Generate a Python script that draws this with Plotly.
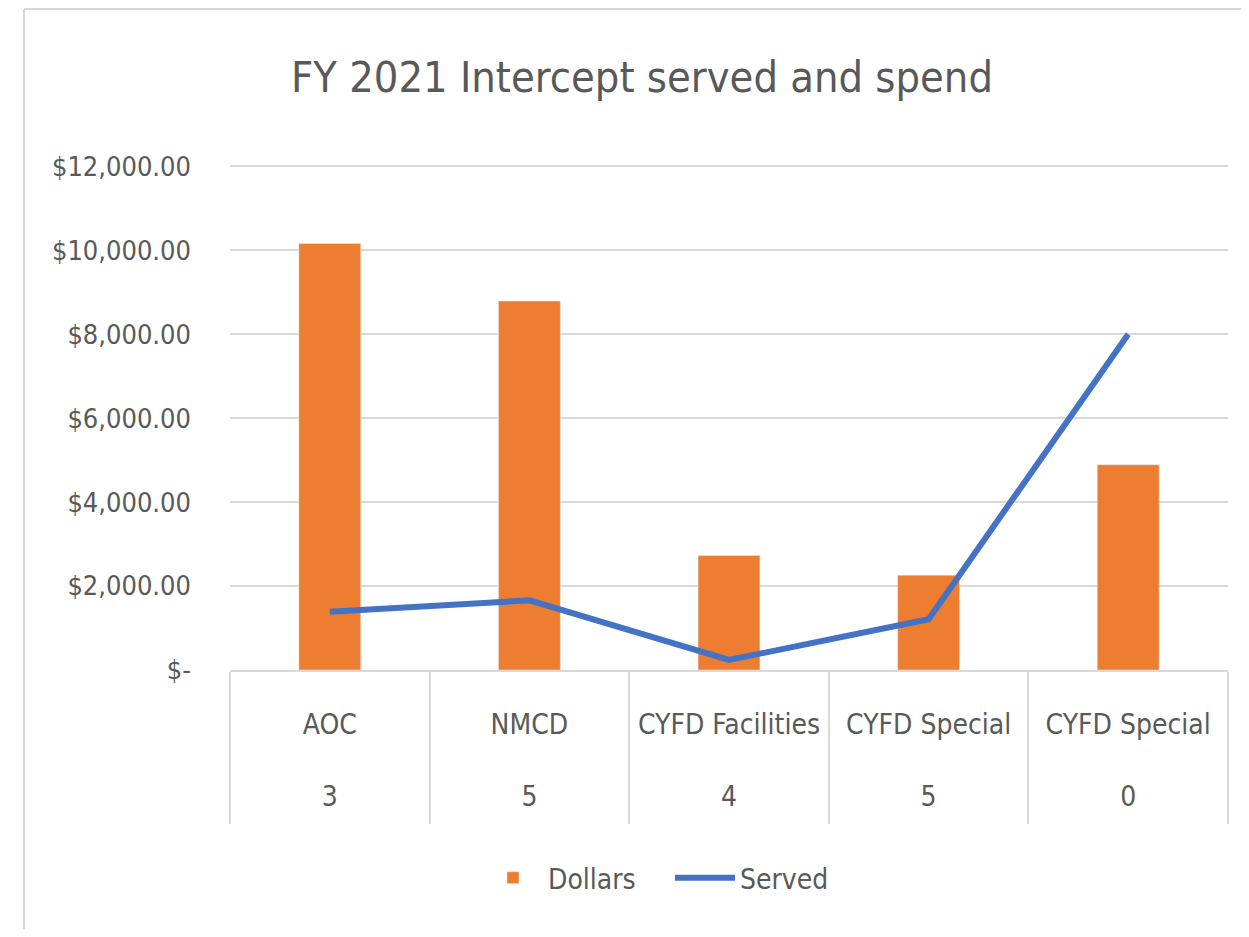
import plotly.graph_objects as go

# data
agencies = ["AOC", "NMCD", "CYFD Facilities", "CYFD Special", "CYFD Special"]
served_counts = [3, 5, 4, 5, 0]
dollars = [10160, 8790, 2730, 2260, 4890]
served_line = [1385, 1660, 240, 1210, 8000]
y_ticks = [0, 2000, 4000, 6000, 8000, 10000, 12000]
y_tick_text = ["$-", "$2,000.00", "$4,000.00", "$6,000.00", "$8,000.00", "$10,000.00", "$12,000.00"]

ORANGE = "#ED7D31"
BLUE = "#4472C4"
GRID = "#D9D9D9"
TEXT = "#595959"
FONT = "Liberation Sans Narrow, DejaVu Sans Condensed, Arial Narrow, sans-serif"

# two-row category labels: name on top, served count below
cats = [f"{a}<br><br>{n}" for a, n in zip(agencies, served_counts)]

fig = go.Figure()
fig.add_trace(go.Bar(x=cats, y=dollars, name="Dollars", marker_color=ORANGE, width=0.31))
fig.add_trace(go.Scatter(x=cats, y=served_line, name="Served", mode="lines",
                         line=dict(color=BLUE, width=6)))

# page body adds an 8px margin, so the figure is sized to fit inside it
W, H = 1233, 921
L, R, T, B = 222, 13, 157, 259
PW, PH = W - L - R, H - T - B

fig.update_layout(
    width=W, height=H,
    margin=dict(l=L, r=R, t=T, b=B, autoexpand=False),
    paper_bgcolor="white", plot_bgcolor="white",
    font=dict(family=FONT, color=TEXT, size=28),
    title=dict(text="FY 2021 Intercept served and spend", x=634 / W, xanchor="center",
               y=1 - 69 / H, yanchor="middle", font=dict(size=43, color=TEXT, family=FONT)),
    showlegend=True,
    legend=dict(orientation="h", x=(470 - L) / PW, xanchor="left",
                y=-208 / PH, yanchor="middle", font=dict(size=28, color=TEXT),
                entrywidth=117, entrywidthmode="pixels", itemwidth=60),
    bargap=0.69,
)
fig.update_yaxes(range=[0, 12030], tickvals=y_ticks, ticktext=y_tick_text,
                 showgrid=True, gridcolor=GRID, gridwidth=2, zeroline=False,
                 showline=False, ticks="", ticklabelstandoff=38, fixedrange=True,
                 tickfont=dict(size=27))
fig.update_xaxes(type="category", showline=True, linecolor=GRID, linewidth=2,
                 tickson="boundaries", ticks="outside", ticklen=152, tickwidth=2,
                 tickcolor=GRID, ticklabelstandoff=28, showgrid=False,
                 tickangle=0, tickfont=dict(size=28))

# outer chart frame like the Excel chart area
fx = -(L - 16) / PW
fy = 1 + (T - 1) / PH
fig.add_shape(type="line", xref="paper", yref="paper", x0=fx, x1=1.05, y0=fy, y1=fy,
              line=dict(color=GRID, width=2))
fig.add_shape(type="line", xref="paper", yref="paper", x0=fx, x1=fx, y0=-0.6, y1=fy,
              line=dict(color=GRID, width=2))

fig.write_html("out.html")
